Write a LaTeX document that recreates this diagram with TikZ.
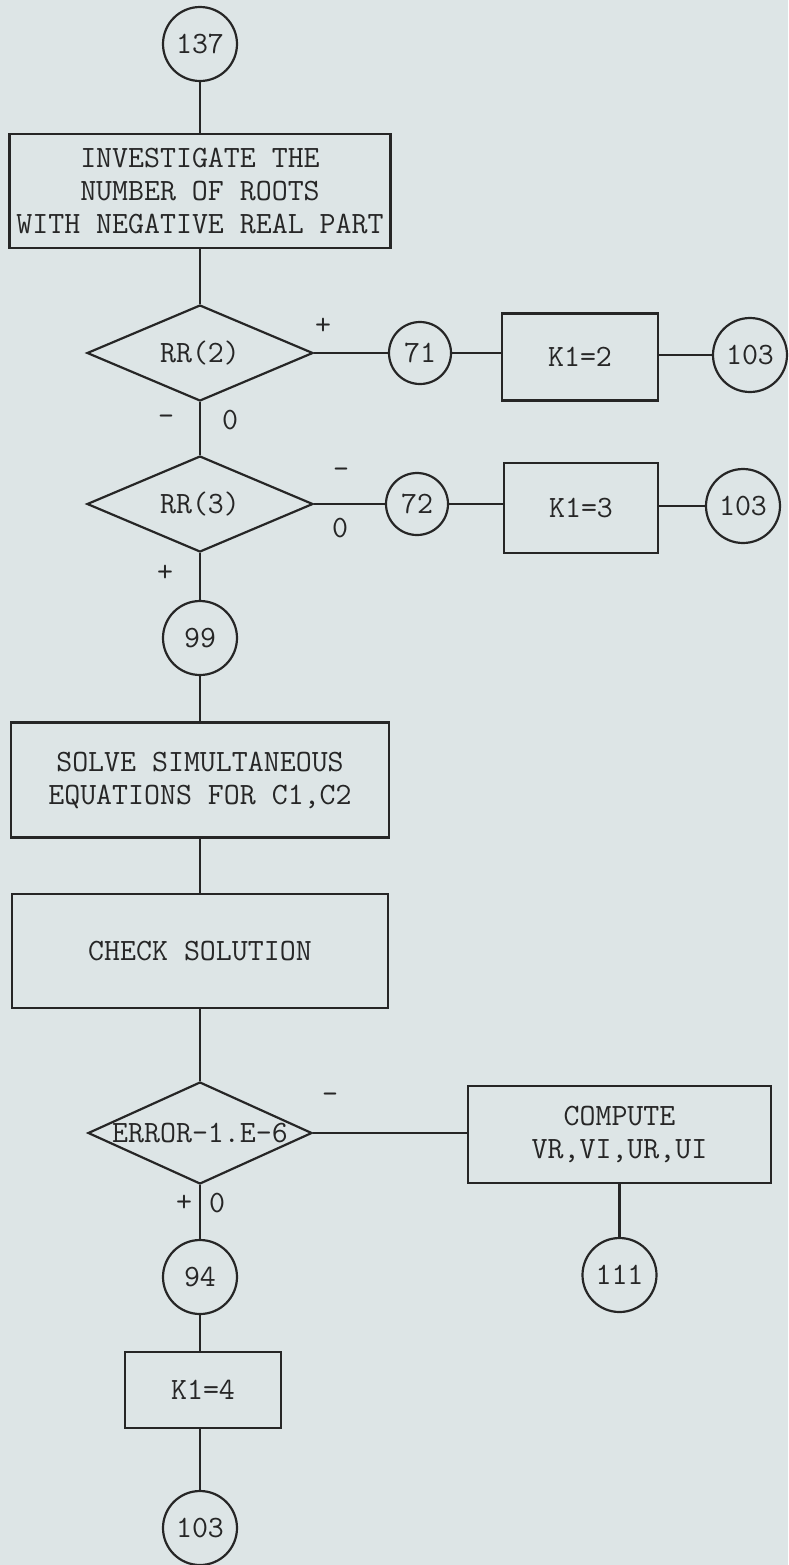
\documentclass[tikz,border=0pt]{standalone}
\usepackage{fontspec}
\usepackage{tikz}
\usetikzlibrary{shapes.geometric,positioning}
\definecolor{scanpaper}{HTML}{DDE5E6}
\definecolor{scanink}{HTML}{262626}
\newcommand{\flowfont}{\ttfamily\fontsize{15.5}{16.5}\selectfont}
\tikzset{
  conn/.style={circle, draw=scanink, line width=1.1pt, minimum size=37pt,
    inner sep=0pt, text=scanink, font=\flowfont},
  smallconn/.style={conn, minimum size=31pt},
  procbox/.style={rectangle, draw=scanink, line width=1.1pt, align=center,
    inner sep=0pt, text=scanink, font=\flowfont},
  decide/.style={diamond, draw=scanink, line width=1.1pt, minimum width=113pt,
    minimum height=48pt, inner sep=0pt},
  sgn/.style={font=\flowfont, text=scanink, inner sep=1pt},
  link/.style={draw=scanink, line width=1.1pt},
}

\begin{document}
\begin{tikzpicture}[x=0.5pt, y=-0.5pt]
\fill[scanpaper] (0,0) rectangle (788,1565);
\useasboundingbox (0,0) rectangle (788,1565);

% ---------- main column ----------
\node[conn] (c137) at (200,44) {137};
\node[procbox, minimum width=190.5pt, minimum height=57pt] (inv) at (200,191)
  {INVESTIGATE THE\\NUMBER OF ROOTS\\WITH NEGATIVE REAL PART};
\node[decide, label={[sgn]center:RR(2)}] (rr2) at (200,353) {};
\node[decide, label={[sgn]center:RR(3)}] (rr3) at (200,504) {};
\node[conn] (c99) at (200,638) {99};
\node[procbox, minimum width=189pt, minimum height=57.5pt] (solve) at (200,780)
  {SOLVE SIMULTANEOUS\\EQUATIONS FOR C1,C2};
\node[procbox, minimum width=188pt, minimum height=57pt] (check) at (200,951)
  {CHECK SOLUTION};
\node[decide, minimum width=112pt, minimum height=51pt,
      label={[sgn]center:ERROR-1.E-6}] (err) at (200,1133) {};
\node[conn] (c94) at (200,1277) {94};
\node[procbox, minimum width=78pt, minimum height=38pt] (k14) at (203,1390) {K1=4};
\node[conn] (c103c) at (200,1528) {103};

% ---------- side branches ----------
\node[smallconn] (c71) at (420,353) {71};
\node[procbox, minimum width=78pt, minimum height=43.5pt] (k12) at (580,357) {K1=2};
\node[conn] (c103a) at (750,355) {103};
\node[smallconn] (c72) at (417,504) {72};
\node[procbox, minimum width=77pt, minimum height=45pt] (k13) at (581,508) {K1=3};
\node[conn] (c103b) at (743,506) {103};
\node[procbox, minimum width=151.5pt, minimum height=48.5pt] (cmp) at (619.5,1134.5)
  {COMPUTE\\VR,VI,UR,UI};
\node[conn] (c111) at (619.5,1275) {111};

% ---------- branch signs ----------
\node[sgn] (s2p) at (323,326) {+};
\node[sgn] (s2m) at (166,420) {-};
\node[sgn] (s2z) at (230,420) {0};
\node[sgn] (s3m) at (341,473) {-};
\node[sgn] (s3z) at (340,528) {0};
\node[sgn] (s3p) at (165,573) {+};
\node[sgn] (sem) at (330,1098) {-};
\node[sgn] (sep) at (184,1203) {+};
\node[sgn] (sez) at (217,1203) {0};

% ---------- connectors ----------
\draw[link] (c137) -- (inv);
\draw[link] (inv) -- (rr2.north);
\draw[link] (rr2.south) -- (rr3.north);
\draw[link] (rr3.south) -- (c99);
\draw[link] (c99) -- (solve);
\draw[link] (solve) -- (check);
\draw[link] (check) -- (err.north);
\draw[link] (err.south) -- (c94);
\draw[link] (c94) -- (c94 |- k14.north);
\draw[link] (c103c |- k14.south) -- (c103c);
\draw[link] (rr2.east) -- (c71);
\draw[link] (c71) -- (c71 -| k12.west);
\draw[link] (k12.east |- c103a) -- (c103a);
\draw[link] (rr3.east) -- (c72);
\draw[link] (c72) -- (c72 -| k13.west);
\draw[link] (k13.east |- c103b) -- (c103b);
\draw[link] (err.east) -- (err.east -| cmp.west);
\draw[link] (cmp) -- (c111);
\end{tikzpicture}
\end{document}
